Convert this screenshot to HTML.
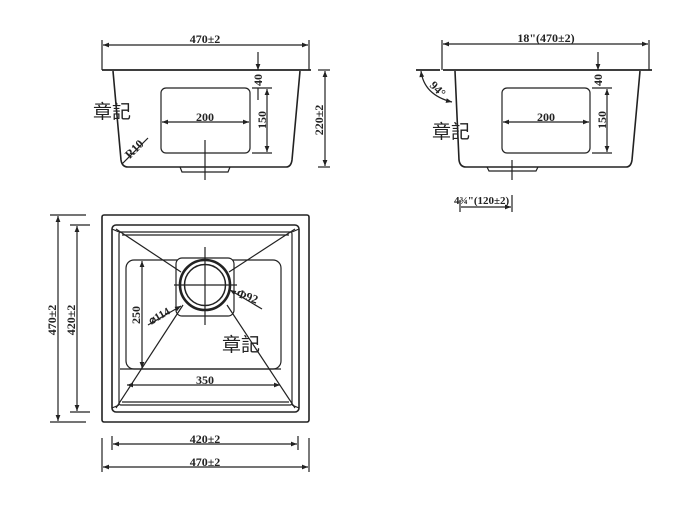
<!DOCTYPE html>
<html><head><meta charset="utf-8"><style>html,body{margin:0;padding:0;background:#fff}svg{display:block}</style></head>
<body>
<svg width="700" height="528" viewBox="0 0 700 528" xmlns="http://www.w3.org/2000/svg" font-family="Liberation Serif, serif" font-weight="bold" fill="none" stroke="#222">
<defs>
<marker id="a" viewBox="0 0 10 10" refX="10" refY="5" markerWidth="7" markerHeight="5" orient="auto-start-reverse"><path d="M0,1L10,5L0,9z" fill="#222" stroke="none"/></marker>
</defs>
<g stroke-width="1.2">
<!-- FRONT VIEW LEFT -->
<line x1="102" y1="40" x2="102" y2="70"/><line x1="309" y1="40" x2="309" y2="70"/>
<line x1="103" y1="45" x2="308" y2="45" marker-start="url(#a)" marker-end="url(#a)"/>
<line x1="102" y1="70" x2="311" y2="70" stroke-width="1.8"/>
<path d="M113,71 L121,160 Q122,167 128,167 L286,167 Q291,167 292,160 L300,71" stroke-width="1.6"/>
<path d="M180,167 L182,172 L228,172 L230,167"/>
<rect x="161" y="88" width="89" height="65" rx="5"/>
<line x1="162" y1="122" x2="249" y2="122" marker-start="url(#a)" marker-end="url(#a)"/>
<line x1="205" y1="140" x2="205" y2="180"/>
<line x1="258" y1="52" x2="258" y2="70" marker-end="url(#a)"/>
<line x1="252" y1="88" x2="272" y2="88"/><line x1="252" y1="153" x2="272" y2="153"/>
<line x1="267" y1="89" x2="267" y2="152" marker-start="url(#a)" marker-end="url(#a)"/>
<line x1="258" y1="88" x2="258" y2="100" />
<line x1="318" y1="70" x2="330" y2="70"/><line x1="318" y1="167" x2="330" y2="167"/>
<line x1="325" y1="71" x2="325" y2="166" marker-start="url(#a)" marker-end="url(#a)"/>
<line x1="122" y1="164" x2="148" y2="138"/>
<!-- RIGHT VIEW -->
<line x1="442" y1="40" x2="442" y2="70"/><line x1="649" y1="40" x2="649" y2="70"/>
<line x1="443" y1="44" x2="648" y2="44" marker-start="url(#a)" marker-end="url(#a)"/>
<line x1="416" y1="70" x2="440" y2="70" stroke-width="1.8"/>
<line x1="443" y1="70" x2="652" y2="70" stroke-width="1.8"/>
<path d="M455,71 L459,160 Q460,167 466,167 L626,167 Q631,167 632,160 L640,71" stroke-width="1.6"/>
<path d="M487,167 L489,171 L536,171 L538,167"/>
<rect x="502" y="88" width="88" height="65" rx="5"/>
<line x1="503" y1="122" x2="589" y2="122" marker-start="url(#a)" marker-end="url(#a)"/>
<line x1="512" y1="160" x2="512" y2="180"/>
<line x1="598" y1="52" x2="598" y2="70" marker-end="url(#a)"/>
<line x1="592" y1="88" x2="612" y2="88"/><line x1="592" y1="153" x2="612" y2="153"/>
<line x1="607" y1="89" x2="607" y2="152" marker-start="url(#a)" marker-end="url(#a)"/>
<path d="M421,71 Q424,95 452,102" marker-start="url(#a)" marker-end="url(#a)"/>
<line x1="460" y1="200" x2="460" y2="212"/><line x1="512" y1="195" x2="512" y2="212"/>
<line x1="461" y1="207" x2="511" y2="207" marker-end="url(#a)"/>
<!-- TOP VIEW -->
<rect x="102" y="215" width="207" height="207" rx="2" stroke-width="1.6"/>
<rect x="112" y="225" width="187" height="187" rx="4" stroke-width="1.6"/>
<rect x="119" y="232" width="173" height="173" rx="2"/>
<line x1="122" y1="235" x2="289" y2="235"/><line x1="122" y1="402" x2="289" y2="402"/>
<rect x="126" y="260" width="155" height="109" rx="8"/>
<rect x="176" y="258" width="58" height="58" rx="6" fill="#fff"/>
<line x1="116" y1="229" x2="181" y2="272"/>
<line x1="295" y1="229" x2="229" y2="272"/>
<line x1="116" y1="408" x2="183" y2="305"/>
<line x1="295" y1="408" x2="227" y2="305"/>
<path d="M112,229 L119,232 M299,229 L292,232 M112,408 L119,405 M299,408 L292,405"/>
<circle cx="205" cy="285" r="25" stroke-width="2.6" fill="#fff"/>
<circle cx="205" cy="285" r="20.5" stroke-width="1.5"/>
<line x1="205" y1="247" x2="205" y2="325"/>
<line x1="174" y1="285" x2="237" y2="285"/>
<line x1="230" y1="290" x2="262" y2="309" marker-start="url(#a)"/>
<line x1="148" y1="325" x2="181" y2="306" marker-end="url(#a)"/>
<line x1="142" y1="261" x2="142" y2="368" marker-start="url(#a)" marker-end="url(#a)"/>
<line x1="127" y1="385" x2="280" y2="385" marker-start="url(#a)" marker-end="url(#a)"/>
<line x1="120" y1="369" x2="281" y2="369"/>
<line x1="50" y1="215" x2="86" y2="215"/><line x1="50" y1="422" x2="86" y2="422"/>
<line x1="70" y1="225" x2="90" y2="225"/><line x1="70" y1="412" x2="90" y2="412"/>
<line x1="58" y1="216" x2="58" y2="421" marker-start="url(#a)" marker-end="url(#a)"/>
<line x1="77" y1="226" x2="77" y2="411" marker-start="url(#a)" marker-end="url(#a)"/>
<line x1="102" y1="438" x2="102" y2="472"/><line x1="309" y1="438" x2="309" y2="472"/>
<line x1="112" y1="436" x2="112" y2="450"/><line x1="298" y1="436" x2="298" y2="450"/>
<line x1="113" y1="444" x2="297" y2="444" marker-start="url(#a)" marker-end="url(#a)"/>
<line x1="103" y1="467" x2="308" y2="467" marker-start="url(#a)" marker-end="url(#a)"/>
</g>
<g fill="#222" stroke="none" font-size="12">
<text x="205" y="43" text-anchor="middle">470±2</text>
<text x="205" y="121" text-anchor="middle">200</text>
<text transform="translate(262,80) rotate(-90)" text-anchor="middle">40</text>
<text transform="translate(266,120) rotate(-90)" text-anchor="middle">150</text>
<text transform="translate(323,120) rotate(-90)" text-anchor="middle">220±2</text>
<text transform="translate(137,152) rotate(-45)" text-anchor="middle">R10</text>
<text x="546" y="42" text-anchor="middle">18"(470±2)</text>
<text x="546" y="121" text-anchor="middle">200</text>
<text transform="translate(602,80) rotate(-90)" text-anchor="middle">40</text>
<text transform="translate(606,120) rotate(-90)" text-anchor="middle">150</text>
<text transform="translate(435,92) rotate(45)" text-anchor="middle">94°</text>
<text x="454" y="204" font-size="11">4¾"(120±2)</text>
<text x="205" y="443" text-anchor="middle">420±2</text>
<text x="205" y="466" text-anchor="middle">470±2</text>
<text x="205" y="384" text-anchor="middle">350</text>
<text transform="translate(140,315) rotate(-90)" text-anchor="middle">250</text>
<text transform="translate(56,320) rotate(-90)" text-anchor="middle">470±2</text>
<text transform="translate(75,320) rotate(-90)" text-anchor="middle">420±2</text>
<text transform="translate(246,300) rotate(20)" text-anchor="middle">Φ92</text>
<text transform="translate(161,319) rotate(-30)" text-anchor="middle" font-size="11">⌀114</text>
</g>
<g fill="#222" stroke="none" font-family="Liberation Sans, Noto Sans CJK TC, sans-serif" font-weight="normal" font-size="19">
<text x="93" y="118">章記</text>
<text x="432" y="138">章記</text>
<text x="222" y="351">章記</text>
</g>
</svg>
</body></html>
